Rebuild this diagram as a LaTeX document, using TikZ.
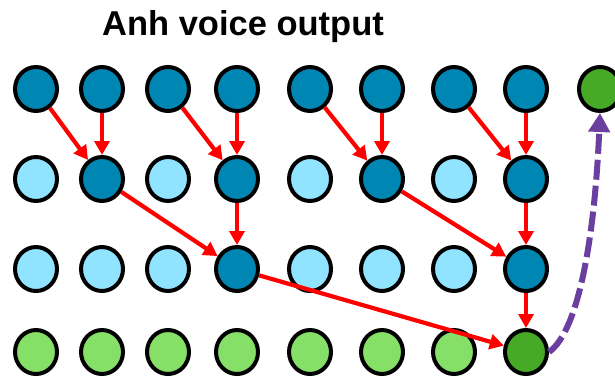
\documentclass[tikz,border=0pt]{standalone}
\usepackage{fontspec}
\setmainfont{Liberation Sans}
\usetikzlibrary{shapes.geometric,arrows.meta}
\definecolor{dblue}{RGB}{0,134,178}
\definecolor{lblue}{RGB}{145,228,255}
\definecolor{lgreen}{RGB}{134,224,104}
\definecolor{dgreen}{RGB}{71,170,38}
\definecolor{vpurple}{RGB}{107,63,160}
\begin{document}
\begin{tikzpicture}[x=1pt,y=-1pt,
  cell/.style={ellipse,draw=black,line width=4pt,minimum width=42pt,minimum height=44pt,inner sep=0pt},
  db/.style={cell,fill=dblue},
  lb/.style={cell,fill=lblue},
  lg/.style={cell,fill=lgreen},
  dg/.style={cell,fill=dgreen},
  link/.style={draw=red,line width=4.2pt,-{Triangle[length=14pt,width=15pt]}},
  feedback/.style={draw=vpurple,line width=6pt,dash pattern=on 20pt off 6pt,-{Triangle[length=19pt,width=21pt]}}]
\useasboundingbox (0,0) rectangle (615,377);
\node[font=\bfseries\fontsize{34.5}{38}\selectfont,anchor=base] (title) at (243,36) {Anh voice output};
% row 1
\foreach \x/\s [count=\i] in {36/db,102/db,168/db,237/db,310/db,382/db,454/db,526/db,600/dg}
  \node[\s] (r1c\i) at (\x,89) {};
% row 2
\foreach \x/\s [count=\i] in {36/lb,102/db,168/lb,237/db,310/lb,382/db,454/lb,526/db}
  \node[\s] (r2c\i) at (\x,179) {};
% row 3
\foreach \x/\s [count=\i] in {36/lb,102/lb,168/lb,237/db,310/lb,382/lb,454/lb,526/db}
  \node[\s] (r3c\i) at (\x,269) {};
% row 4
\foreach \x/\s [count=\i] in {36/lg,102/lg,168/lg,237/lg,310/lg,382/lg,454/lg,526/dg}
  \node[\s] (r4c\i) at (\x,352) {};
% row 1 -> row 2
\draw[link] (r1c1) -- (r2c2);
\draw[link] (r1c2) -- (r2c2);
\draw[link] (r1c3) -- (r2c4);
\draw[link] (r1c4) -- (r2c4);
\draw[link] (r1c5) -- (r2c6);
\draw[link] (r1c6) -- (r2c6);
\draw[link] (r1c7) -- (r2c8);
\draw[link] (r1c8) -- (r2c8);
% row 2 -> row 3
\draw[link] (r2c2) -- (r3c4);
\draw[link] (r2c4) -- (r3c4);
\draw[link] (r2c6) -- (r3c8);
\draw[link] (r2c8) -- (r3c8);
% row 3 -> row 4
\draw[link] (r3c4) -- (r4c8);
\draw[link] (r3c8) -- (r4c8);
% feedback
\draw[feedback] (r4c8.east) .. controls (580,330) and (595,230) .. (r1c9.south);
\end{tikzpicture}
\end{document}
